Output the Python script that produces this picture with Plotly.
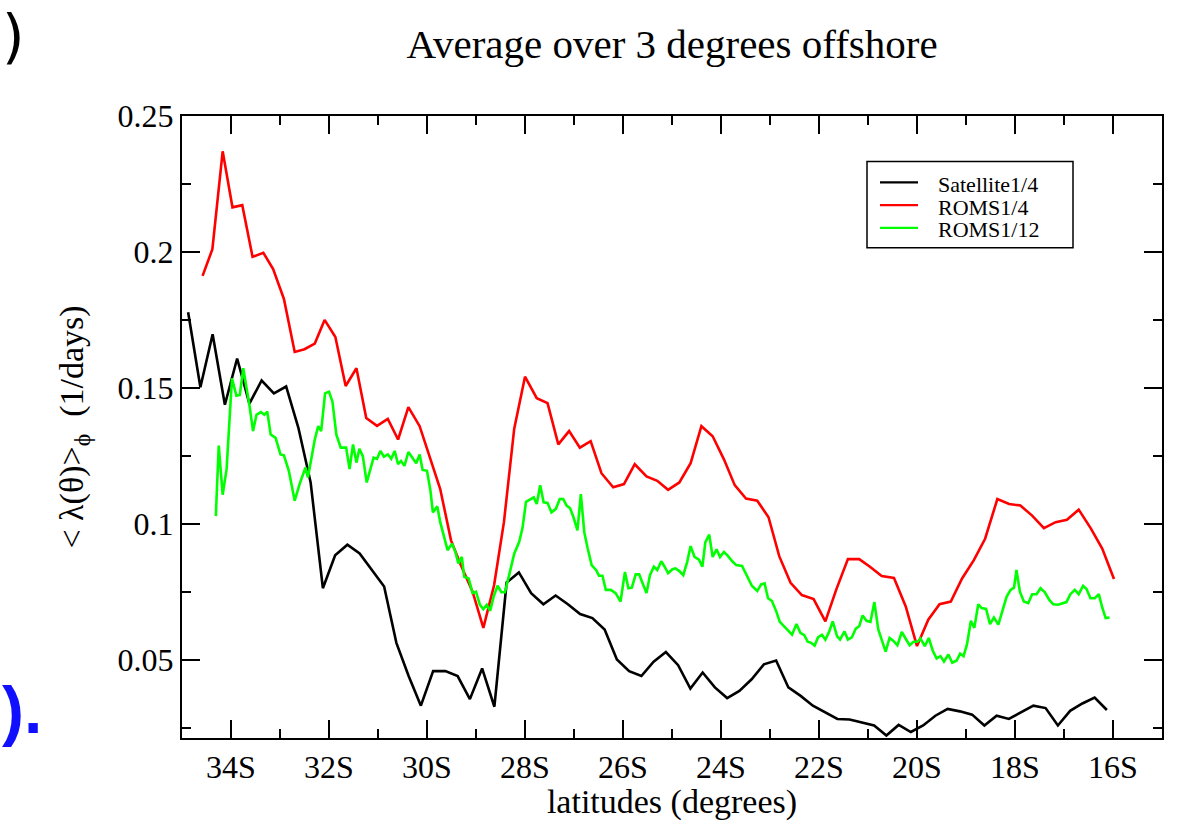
import plotly.graph_objects as go

# ---------------- data (latitude in degrees south, rate in 1/days) ----------------
sat_lat = [34.875, 34.625, 34.375, 34.125, 33.875, 33.625, 33.375, 33.125, 32.875, 32.625,
           32.375, 32.125, 31.875, 31.625, 31.375, 31.125, 30.875, 30.625, 30.375, 30.125,
           29.875, 29.625, 29.375, 29.125, 28.875, 28.625, 28.375, 28.125, 27.875, 27.625,
           27.375, 27.125, 26.875, 26.625, 26.375, 26.125, 25.875, 25.625, 25.375, 25.125,
           24.875, 24.625, 24.375, 24.125, 23.875, 23.625, 23.375, 23.125, 22.875, 22.625,
           22.375, 22.125, 21.875, 21.625, 21.375, 21.125, 20.875, 20.625, 20.375, 20.125,
           19.875, 19.625, 19.375, 19.125, 18.875, 18.625, 18.375, 18.125, 17.875, 17.625,
           17.375, 17.125, 16.875, 16.625, 16.375, 16.125]
sat_val = [0.1778, 0.1502, 0.1697, 0.1438, 0.1608, 0.1442, 0.1527, 0.1480, 0.1505, 0.1353,
           0.1152, 0.0763, 0.0884, 0.0923, 0.0891, 0.0830, 0.0769, 0.0562, 0.0440, 0.0331,
           0.0458, 0.0458, 0.0440, 0.0355, 0.0468, 0.0327, 0.0784, 0.0821, 0.0745, 0.0704,
           0.0736, 0.0704, 0.0668, 0.0653, 0.0611, 0.0501, 0.0458, 0.0440, 0.0493, 0.0528,
           0.0480, 0.0394, 0.0453, 0.0398, 0.0359, 0.0385, 0.0428, 0.0483, 0.0497, 0.0398,
           0.0367, 0.0331, 0.0307, 0.0282, 0.0280, 0.0270, 0.0258, 0.0221, 0.0260, 0.0234,
           0.0258, 0.0294, 0.0319, 0.0310, 0.0298, 0.0258, 0.0294, 0.0282, 0.0307, 0.0331,
           0.0322, 0.0258, 0.0312, 0.0339, 0.0361, 0.0315]

roms4_lat = [34.58, 34.38, 34.17, 33.97, 33.77, 33.56, 33.34, 33.14, 32.92, 32.70,
             32.50, 32.29, 32.09, 31.87, 31.66, 31.44, 31.24, 31.02, 30.80, 30.59,
             30.38, 30.15, 29.95, 29.73, 29.51, 29.31, 29.07, 28.85, 28.63, 28.43,
             28.22, 28.00, 27.76, 27.54, 27.32, 27.10, 26.88, 26.66, 26.44, 26.20,
             25.98, 25.76, 25.52, 25.30, 25.08, 24.85, 24.62, 24.40, 24.17, 23.94,
             23.72, 23.49, 23.26, 23.03, 22.81, 22.58, 22.35, 22.11, 21.87, 21.65,
             21.41, 21.18, 20.96, 20.72, 20.47, 20.23, 20.00, 19.77, 19.54, 19.31,
             19.08, 18.84, 18.61, 18.36, 18.12, 17.89, 17.65, 17.41, 17.17, 16.94,
             16.70, 16.45, 16.22, 15.98]
roms4_val = [0.1912, 0.2010, 0.2370, 0.2164, 0.2172, 0.1982, 0.1997, 0.1937, 0.1827, 0.1632,
             0.1642, 0.1663, 0.1750, 0.1687, 0.1507, 0.1572, 0.1389, 0.1360, 0.1386, 0.1310,
             0.1429, 0.1359, 0.1249, 0.1128, 0.0939, 0.0848, 0.0750, 0.0617, 0.0775, 0.1006,
             0.1350, 0.1541, 0.1462, 0.1444, 0.1292, 0.1341, 0.1280, 0.1304, 0.1186, 0.1134,
             0.1146, 0.1219, 0.1174, 0.1158, 0.1125, 0.1152, 0.1223, 0.1359, 0.1322, 0.1237,
             0.1142, 0.1093, 0.1085, 0.1024, 0.0880, 0.0783, 0.0738, 0.0723, 0.0641, 0.0757,
             0.0870, 0.0870, 0.0842, 0.0808, 0.0801, 0.0696, 0.0550, 0.0647, 0.0704, 0.0714,
             0.0799, 0.0866, 0.0945, 0.1091, 0.1073, 0.1067, 0.1030, 0.0984, 0.1006, 0.1015,
             0.1052, 0.0982, 0.0909, 0.0797]

roms12_lat = [34.31, 34.25, 34.17, 34.09, 33.98, 33.89, 33.82, 33.75, 33.62, 33.55,
              33.48, 33.39, 33.32, 33.26, 33.19, 33.09, 32.99, 32.92, 32.82, 32.70,
              32.60, 32.48, 32.43, 32.29, 32.22, 32.16, 32.08, 32.00, 31.93, 31.85,
              31.76, 31.65, 31.58, 31.51, 31.44, 31.38, 31.31, 31.23, 31.09, 31.02,
              30.95, 30.88, 30.80, 30.73, 30.66, 30.59, 30.53, 30.46, 30.38, 30.29,
              30.22, 30.15, 30.09, 30.00, 29.93, 29.88, 29.79, 29.73, 29.65, 29.58,
              29.49, 29.42, 29.36, 29.29, 29.24, 29.15, 29.07, 29.00, 28.92, 28.85,
              28.78, 28.71, 28.64, 28.56, 28.48, 28.41, 28.32, 28.22, 28.12, 28.05,
              27.98, 27.89, 27.82, 27.76, 27.69, 27.62, 27.54, 27.46, 27.37, 27.29,
              27.22, 27.15, 27.08, 27.01, 26.93, 26.86, 26.79, 26.72, 26.64, 26.55,
              26.49, 26.42, 26.35, 26.25, 26.15, 26.05, 25.96, 25.89, 25.82, 25.74,
              25.67, 25.60, 25.52, 25.45, 25.37, 25.30, 25.22, 25.15, 25.08, 24.99,
              24.93, 24.85, 24.77, 24.69, 24.62, 24.54, 24.45, 24.38, 24.32, 24.24,
              24.17, 24.09, 24.02, 23.94, 23.86, 23.77, 23.69, 23.57, 23.47, 23.37,
              23.26, 23.18, 23.11, 23.04, 22.96, 22.87, 22.80, 22.71, 22.62, 22.55,
              22.46, 22.38, 22.30, 22.23, 22.16, 22.09, 22.02, 21.94, 21.87, 21.79,
              21.72, 21.63, 21.57, 21.48, 21.41, 21.33, 21.25, 21.18, 21.11, 21.03,
              20.95, 20.87, 20.79, 20.71, 20.64, 20.56, 20.48, 20.40, 20.31, 20.23,
              20.15, 20.07, 19.99, 19.93, 19.84, 19.76, 19.68, 19.60, 19.52, 19.45,
              19.36, 19.28, 19.19, 19.12, 19.05, 18.98, 18.90, 18.83, 18.75, 18.68,
              18.59, 18.51, 18.43, 18.34, 18.25, 18.17, 18.09, 18.02, 17.97, 17.90,
              17.82, 17.73, 17.65, 17.56, 17.48, 17.39, 17.30, 17.22, 17.12, 17.03,
              16.95, 16.87, 16.78, 16.70, 16.61, 16.54, 16.46, 16.37, 16.29, 16.22,
              16.15, 16.07]
roms12_val = [0.1028, 0.1288, 0.1107, 0.1201, 0.1535, 0.1471, 0.1474, 0.1572, 0.1432, 0.1341,
              0.1401, 0.1411, 0.1401, 0.1413, 0.1328, 0.1316, 0.1255, 0.1252, 0.1195, 0.1085,
              0.1146, 0.1207, 0.1170, 0.1310, 0.1359, 0.1341, 0.1480, 0.1486, 0.1450, 0.1328,
              0.1280, 0.1280, 0.1201, 0.1292, 0.1225, 0.1276, 0.1249, 0.1152, 0.1243, 0.1239,
              0.1268, 0.1247, 0.1255, 0.1239, 0.1268, 0.1219, 0.1231, 0.1213, 0.1264, 0.1243,
              0.1223, 0.1255, 0.1198, 0.1195, 0.1122, 0.1042, 0.1064, 0.1006, 0.0945, 0.0903,
              0.0927, 0.0896, 0.0854, 0.0878, 0.0805, 0.0799, 0.0745, 0.0750, 0.0702, 0.0686,
              0.0702, 0.0680, 0.0732, 0.0772, 0.0748, 0.0748, 0.0814, 0.0890, 0.0933, 0.0985,
              0.1081, 0.1091, 0.1097, 0.1073, 0.1142, 0.1079, 0.1077, 0.1042, 0.1055, 0.1091,
              0.1091, 0.1067, 0.1057, 0.1024, 0.0976, 0.1109, 0.0969, 0.0909, 0.0848, 0.0830,
              0.0809, 0.0809, 0.0757, 0.0757, 0.0745, 0.0714, 0.0823, 0.0763, 0.0765, 0.0814,
              0.0814, 0.0781, 0.0745, 0.0811, 0.0842, 0.0830, 0.0862, 0.0842, 0.0818, 0.0833,
              0.0836, 0.0826, 0.0811, 0.0860, 0.0918, 0.0878, 0.0868, 0.0842, 0.0932, 0.0960,
              0.0878, 0.0906, 0.0878, 0.0896, 0.0882, 0.0862, 0.0848, 0.0845, 0.0809, 0.0772,
              0.0753, 0.0777, 0.0781, 0.0726, 0.0716, 0.0677, 0.0639, 0.0623, 0.0604, 0.0592,
              0.0631, 0.0599, 0.0590, 0.0566, 0.0562, 0.0552, 0.0582, 0.0592, 0.0574, 0.0604,
              0.0641, 0.0586, 0.0574, 0.0604, 0.0574, 0.0582, 0.0614, 0.0623, 0.0663, 0.0643,
              0.0639, 0.0712, 0.0611, 0.0570, 0.0530, 0.0580, 0.0569, 0.0553, 0.0602, 0.0577,
              0.0553, 0.0566, 0.0566, 0.0578, 0.0550, 0.0580, 0.0534, 0.0505, 0.0513, 0.0493,
              0.0519, 0.0489, 0.0497, 0.0522, 0.0513, 0.0556, 0.0643, 0.0617, 0.0704, 0.0690,
              0.0687, 0.0631, 0.0655, 0.0629, 0.0684, 0.0732, 0.0757, 0.0765, 0.0830, 0.0750,
              0.0714, 0.0708, 0.0741, 0.0741, 0.0763, 0.0748, 0.0720, 0.0704, 0.0702, 0.0708,
              0.0712, 0.0741, 0.0757, 0.0741, 0.0772, 0.0760, 0.0726, 0.0726, 0.0741, 0.0692,
              0.0653, 0.0655]

lat_ticks = [34, 32, 30, 28, 26, 24, 22, 20, 18, 16]
lat_ticktext = [f"{v}S" for v in lat_ticks]
rate_ticks = [0.05, 0.1, 0.15, 0.2, 0.25]

series = [
    ("Satellite1/4", sat_lat, sat_val, "#000000"),
    ("ROMS1/4", roms4_lat, roms4_val, "#ff0000"),
    ("ROMS1/12", roms12_lat, roms12_val, "#00ff00"),
]

# ---------------- figure geometry ----------------
W, H = 1191, 821
ML, MR, MT, MB = 182, 29, 116, 77
PW, PH = W - ML - MR, H - MT - MB


def px_x(px):
    return (px - ML) / PW


def px_y(py):
    return (H - MB - py) / PH


SERIF = "Liberation Serif, Times New Roman, serif"

fig = go.Figure()
for name, xs, ys, col in series:
    fig.add_trace(go.Scatter(x=xs, y=ys, mode="lines", name=name,
                             line=dict(color=col, width=2.6), showlegend=False))

axis_common = dict(
    showline=True, linecolor="black", linewidth=2, mirror="ticks",
    ticks="inside", ticklen=18, tickwidth=2, tickcolor="black",
    showgrid=False, zeroline=False,
    tickfont=dict(family=SERIF, size=32, color="black"),
)

fig.update_xaxes(
    range=[35, 15], tickvals=lat_ticks, ticktext=lat_ticktext,
    minor=dict(ticks="inside", ticklen=9, tickwidth=2, tickcolor="black", dtick=1, tick0=0),
    title=dict(text="latitudes (degrees)", font=dict(family=SERIF, size=34, color="black"),
               standoff=0),
    **axis_common,
)
fig.update_yaxes(
    range=[0.0212, 0.25], tickvals=rate_ticks,
    minor=dict(ticks="inside", ticklen=9, tickwidth=2, tickcolor="black", dtick=0.025, tick0=0),
    title=dict(text="< λ(θ)><sub>ϕ</sub>  (1/days)", font=dict(family=SERIF, size=34, color="black"),
               standoff=24),
    **axis_common,
)

# legend box drawn in plot-paper units
shapes = [dict(type="rect", xref="paper", yref="paper",
               x0=px_x(867), x1=px_x(1073), y0=px_y(249), y1=px_y(162),
               line=dict(color="black", width=1.5), fillcolor="white", layer="above")]
annotations = []
legend_rows = [185, 208, 231]
for (name, _, _, col), ry in zip(series, legend_rows):
    shapes.append(dict(type="line", xref="paper", yref="paper",
                       x0=px_x(880), x1=px_x(918), y0=px_y(ry - 2), y1=px_y(ry - 2),
                       line=dict(color=col, width=2.2), layer="above"))
    annotations.append(dict(text=name, xref="paper", yref="paper", x=px_x(936), y=px_y(ry),
                            xanchor="left", yanchor="middle", showarrow=False,
                            font=dict(family=SERIF, size=22, color="black")))

# stray panel marks at the page edges
annotations.append(dict(text=")", xref="paper", yref="paper", x=px_x(27), y=px_y(36),
                        xanchor="right", yanchor="middle", showarrow=False,
                        font=dict(family="DejaVu Sans", size=58, color="black")))
annotations.append(dict(text="<b>).</b>", xref="paper", yref="paper", x=px_x(44), y=px_y(716),
                        xanchor="right", yanchor="middle", showarrow=False,
                        font=dict(family="Liberation Sans", size=66, color="#1010ff")))

fig.update_layout(
    width=W, height=H,
    margin=dict(l=ML, r=MR, t=MT, b=MB, pad=0),
    paper_bgcolor="white", plot_bgcolor="white",
    title=dict(text="Average over 3 degrees offshore", x=672 / W,
               xanchor="center", y=1 - 44 / H, yanchor="middle",
               font=dict(family=SERIF, size=41, color="black")),
    shapes=shapes, annotations=annotations,
)

fig.write_html("out.html")
